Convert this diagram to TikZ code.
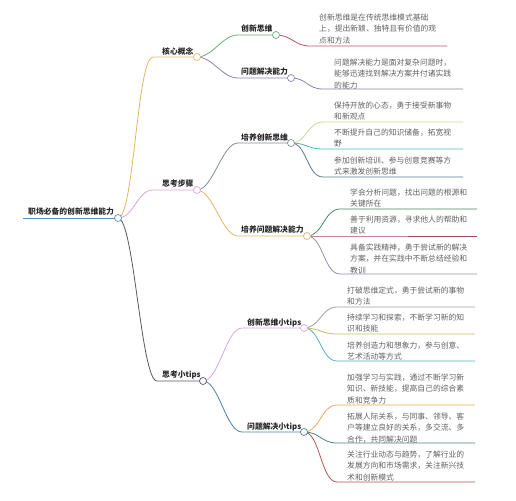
\documentclass[tikz,border=0pt]{standalone}
\usepackage{fontspec}
\setmainfont{Noto Sans CJK SC}
\definecolor{cRoot}{HTML}{5B8FC0}
\definecolor{cOrange}{HTML}{E8B466}
\definecolor{cPink}{HTML}{D8A8D8}
\definecolor{cDark}{HTML}{555A60}
\definecolor{cGreen}{HTML}{6AAE78}
\definecolor{cPurple}{HTML}{8C80AA}
\definecolor{cRed}{HTML}{B8545E}
\definecolor{cPurpleB}{HTML}{8A82A0}
\definecolor{cSlate}{HTML}{7F8C99}
\definecolor{cYG}{HTML}{CBDA94}
\definecolor{cTeal}{HTML}{50B4C0}
\definecolor{cSlateB}{HTML}{5C7C92}
\definecolor{cGreenB}{HTML}{3F8A60}
\definecolor{cMaroon}{HTML}{A04658}
\definecolor{cGP}{HTML}{9090A8}
\definecolor{cGray}{HTML}{A0A0A0}
\definecolor{cOlive}{HTML}{CDBB55}
\definecolor{cOrangeB}{HTML}{E8AA55}
\definecolor{cSG}{HTML}{4F7F80}
\definecolor{cBrown}{HTML}{B0564E}
\definecolor{cBlue}{HTML}{4F7FA8}
\newcommand\brch[4]{\draw[edge,#1] (#2) .. controls +(16,0) and +(-16,0) .. (#3) -- (#4);}
\begin{document}
\begin{tikzpicture}[x=1pt,y=-1pt,
  lab/.style={font=\fontsize{7.8}{11.6}\selectfont\bfseries, text=black!85, inner sep=0, anchor=west},
  leaf/.style={font=\fontsize{7.8}{11.6}\selectfont, text=black!62, inner sep=0, anchor=north west, align=left},
  dot/.style={circle, fill=white, inner sep=0, minimum size=7pt, line width=0.7pt},
  edge/.style={line width=0.8pt}]
\useasboundingbox (0,0) rectangle (516,500);
% circle centres
\coordinate (c0) at (118,218);
\coordinate (c1) at (197,57);
\coordinate (c2) at (197,190);
\coordinate (c3) at (203,381);
\coordinate (c11) at (276,35);
\coordinate (c12) at (291,78);
\coordinate (c21) at (291,143);
\coordinate (c22) at (307,236);
\coordinate (c31) at (304,328);
\coordinate (c32) at (304,432);
% underline starts
\coordinate (r0) at (23,218);
\coordinate (s1) at (153,57);
\coordinate (s2) at (153,190);
\coordinate (s3) at (157,381);
\coordinate (s11) at (238,35);
\coordinate (s12) at (238,78);
\coordinate (s21) at (238,143);
\coordinate (s22) at (238,236);
\coordinate (s31) at (242,328);
\coordinate (s32) at (242,432);
% leaf underline starts / ends
\coordinate (a1) at (310,46);  \coordinate (b1) at (447,46);
\coordinate (a2) at (323,89);  \coordinate (b2) at (463,89);
\coordinate (a3) at (323,122); \coordinate (b3) at (463,122);
\coordinate (a4) at (323,149); \coordinate (b4) at (463,149);
\coordinate (a5) at (323,177); \coordinate (b5) at (463,177);
\coordinate (a6) at (340,209); \coordinate (b6) at (477,209);
\coordinate (a7) at (340,236); \coordinate (b7) at (477,236);
\coordinate (a8) at (340,274); \coordinate (b8) at (477,274);
\coordinate (a9) at (337,307); \coordinate (b9) at (475,307);
\coordinate (a10) at (337,334); \coordinate (b10) at (475,334);
\coordinate (a11) at (337,361); \coordinate (b11) at (475,361);
\coordinate (a12) at (337,405); \coordinate (b12) at (475,405);
\coordinate (a13) at (337,443); \coordinate (b13) at (475,443);
\coordinate (a14) at (337,482); \coordinate (b14) at (475,482);
% connectors
\draw[edge,cRoot] (r0) -- (c0);
\brch{cOrange}{c0}{s1}{c1}
\brch{cPink}{c0}{s2}{c2}
\brch{cDark}{c0}{s3}{c3}
\brch{cGreen}{c1}{s11}{c11}
\brch{cPurple}{c1}{s12}{c12}
\brch{cSlate}{c2}{s21}{c21}
\brch{cOrange}{c2}{s22}{c22}
\brch{cPink}{c3}{s31}{c31}
\brch{cBlue}{c3}{s32}{c32}
\brch{cRed}{c11}{a1}{b1}
\brch{cPurpleB}{c12}{a2}{b2}
\brch{cYG}{c21}{a3}{b3}
\brch{cTeal}{c21}{a4}{b4}
\brch{cSlateB}{c21}{a5}{b5}
\brch{cGreenB}{c22}{a6}{b6}
\brch{cMaroon}{c22}{a7}{b7}
\brch{cGP}{c22}{a8}{b8}
\brch{cGray}{c31}{a9}{b9}
\brch{cOlive}{c31}{a10}{b10}
\brch{cTeal}{c31}{a11}{b11}
\brch{cOrangeB}{c32}{a12}{b12}
\brch{cSG}{c32}{a13}{b13}
\brch{cBrown}{c32}{a14}{b14}
% circles
\node[dot,draw=cRoot] (d0) at (c0) {};
\node[dot,draw=cOrange] (d1) at (c1) {};
\node[dot,draw=cPink] (d2) at (c2) {};
\node[dot,draw=cDark] (d3) at (c3) {};
\node[dot,draw=cGreen] (d11) at (c11) {};
\node[dot,draw=cPurple] (d12) at (c12) {};
\node[dot,draw=cSlate] (d21) at (c21) {};
\node[dot,draw=cOrange] (d22) at (c22) {};
\node[dot,draw=cPink] (d31) at (c31) {};
\node[dot,draw=cBlue] (d32) at (c32) {};
% labels
\node[lab] (n0) at (28,212) {职场必备的创新思维能力};
\node[lab] (n1) at (162,51) {核心概念};
\node[lab] (n2) at (162,184) {思考步骤};
\node[lab] (n3) at (162,375) {思考小tips};
\node[lab] (n11) at (241,29) {创新思维};
\node[lab] (n12) at (241,72) {问题解决能力};
\node[lab] (n21) at (241,138) {培养创新思维};
\node[lab] (n22) at (241,230) {培养问题解决能力};
\node[lab] (n31) at (247,323) {创新思维小tips};
\node[lab] (n32) at (247,427) {问题解决小tips};
% leaves
\node[leaf] (t1) at (319,13.5) {创新思维是在传统思维模式基础\\上，提出新颖、独特且有价值的观\\点和方法};
\node[leaf] (t2) at (334,58.5) {问题解决能力是面对复杂问题时，\\能够迅速找到解决方案并付诸实践\\的能力};
\node[leaf] (t3) at (334,101.5) {保持开放的心态，勇于接受新事物\\和新观点};
\node[leaf] (t4) at (334,128.5) {不断提升自己的知识储备，拓宽视\\野};
\node[leaf] (t5) at (334,156.5) {参加创新培训、参与创意竞赛等方\\式来激发创新思维};
\node[leaf] (t6) at (350,188.5) {学会分析问题，找出问题的根源和\\关键所在};
\node[leaf] (t7) at (350,215.5) {善于利用资源，寻求他人的帮助和\\建议};
\node[leaf] (t8) at (350,243.5) {具备实践精神，勇于尝试新的解决\\方案，并在实践中不断总结经验和\\教训};
\node[leaf] (t9) at (347,286.5) {打破思维定式，勇于尝试新的事物\\和方法};
\node[leaf] (t10) at (347,313.5) {持续学习和探索，不断学习新的知\\识和技能};
\node[leaf] (t11) at (347,341.5) {培养创造力和想象力，参与创意、\\艺术活动等方式};
\node[leaf] (t12) at (347,373.5) {加强学习与实践，通过不断学习新\\知识、新技能，提高自己的综合素\\质和竞争力};
\node[leaf] (t13) at (347,412.5) {拓展人际关系，与同事、领导、客\\户等建立良好的关系，多交流、多\\合作，共同解决问题};
\node[leaf] (t14) at (347,450.5) {关注行业动态与趋势，了解行业的\\发展方向和市场需求，关注新兴技\\术和创新模式};
\end{tikzpicture}
\end{document}
